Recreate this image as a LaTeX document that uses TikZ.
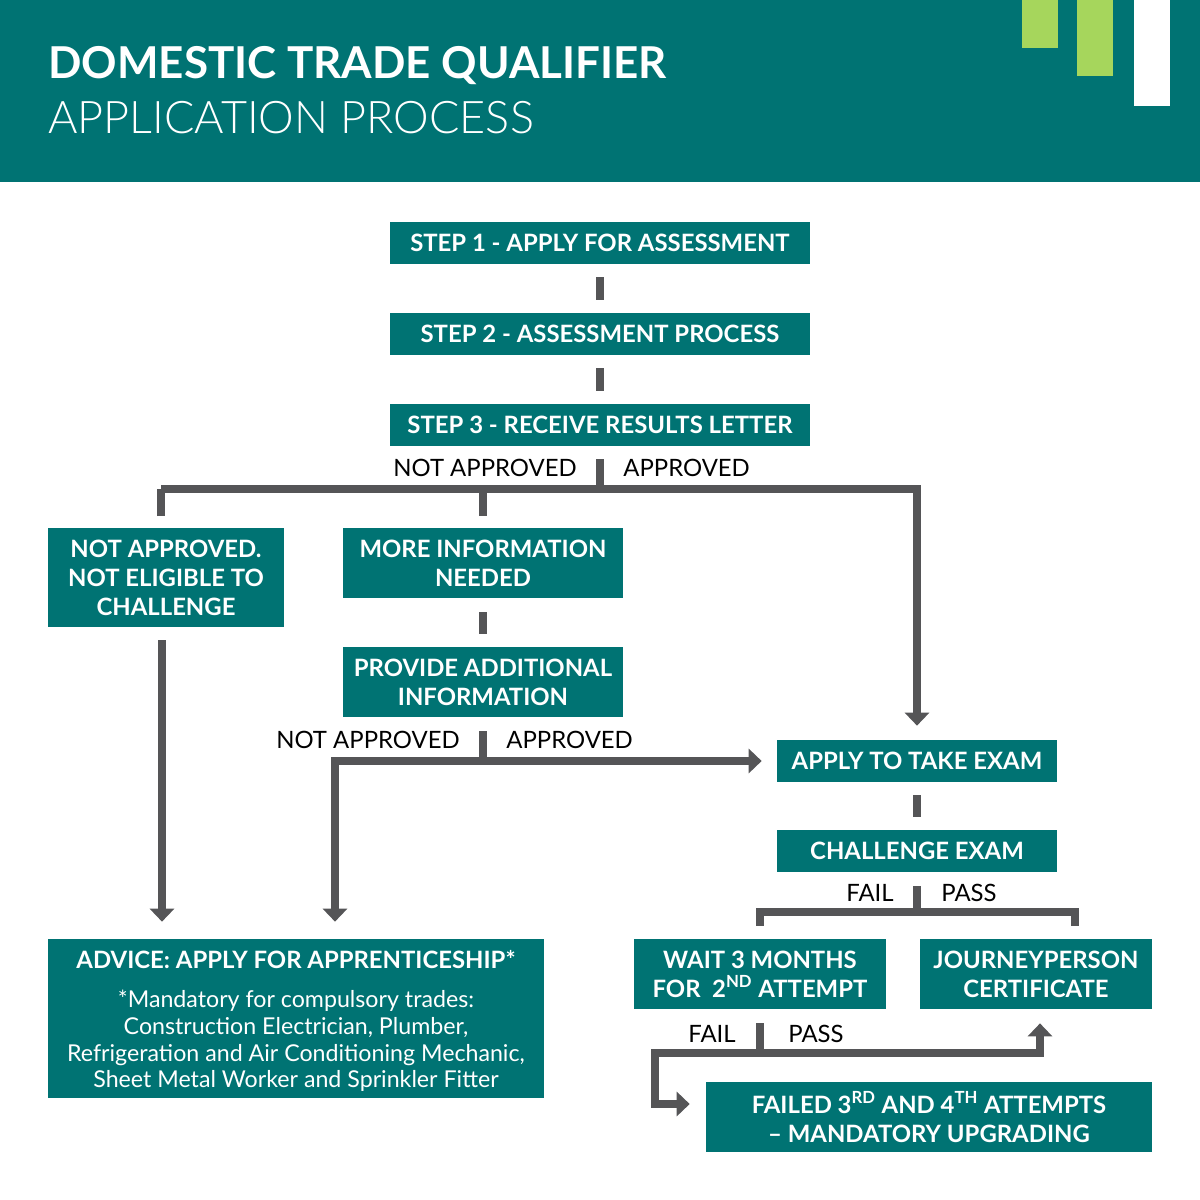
\documentclass[tikz,border=0pt]{standalone}
\usepackage{fontspec}
\setmainfont{Lato}
\usetikzlibrary{arrows.meta,calc}
\definecolor{teal1}{HTML}{007373}
\definecolor{grey1}{HTML}{555557}
\definecolor{green1}{HTML}{A6D65C}
\tikzset{
    box/.style = {
        fill = teal1,
        text = white,
        font = \fontsize{13.6}{16.5}\selectfont\bfseries,
        align = center,
        inner sep = 0pt,
        },
    link/.style = {
        draw = grey1,
        line width = 4.5pt,
        },
    tip/.style = {
        -{Triangle[length=0.26cm, width=0.48cm]},
        },
    lab/.style = {
        font = \fontsize{13.6}{16}\selectfont,
        text = black,
        inner sep = 0pt,
        },
}
\begin{document}
\begin{tikzpicture}[x=0.02cm, y=-0.02cm]
    \useasboundingbox (0,0) rectangle (1200,1200);
    % header
    \fill[teal1] (0,0) rectangle (1200,182);
    \fill[green1] (1022,0) rectangle (1058,48);
    \fill[green1] (1077,0) rectangle (1113,76);
    \fill[white] (1134,0) rectangle (1170,106);
    \node[anchor=west, text=white, inner sep=0pt, font=\fontsize{25}{30}\selectfont\bfseries] (title) at (48,66) {DOMESTIC TRADE QUALIFIER};
    \node[anchor=west, text=white, inner sep=0pt, font=\fontsize{25.6}{30}\selectfont] (subtitle) at (48,118) {\fontspec{Lato Light}APPLICATION PROCESS};

    % boxes
    \node[box, minimum width=8.4cm, minimum height=0.84cm] (s1) at (600,243) {STEP 1 - APPLY FOR ASSESSMENT};
    \node[box, minimum width=8.4cm, minimum height=0.84cm] (s2) at (600,334) {STEP 2 - ASSESSMENT PROCESS};
    \node[box, minimum width=8.4cm, minimum height=0.84cm] (s3) at (600,425) {STEP 3 - RECEIVE RESULTS LETTER};
    \node[box, minimum width=4.72cm, minimum height=1.98cm] (na) at (166,577.5) {NOT APPROVED.\\NOT ELIGIBLE TO\\CHALLENGE};
    \node[box, minimum width=5.6cm, minimum height=1.4cm] (more) at (483,563) {MORE INFORMATION\\NEEDED};
    \node[box, minimum width=5.6cm, minimum height=1.4cm] (prov) at (483,682) {PROVIDE ADDITIONAL\\INFORMATION};
    \node[box, minimum width=5.6cm, minimum height=0.84cm] (exam) at (917,761) {APPLY TO TAKE EXAM};
    \node[box, minimum width=5.6cm, minimum height=0.84cm] (chal) at (917,851) {CHALLENGE EXAM};
    \node[box, minimum width=9.92cm, minimum height=3.18cm] (adv) at (296,1018.5) {};
    \node[box, anchor=north] (advt) at (296,950) {ADVICE: APPLY FOR APPRENTICESHIP*};
    \node[box, anchor=north, font=\fontsize{13.2}{15.2}\selectfont] (advn) at (296,990) {*Mandatory for compulsory trades:\\Construction Electrician, Plumber,\\Refrigeration and Air Conditioning Mechanic,\\Sheet Metal Worker and Sprinkler Fitter};
    \node[box, minimum width=5.04cm, minimum height=1.4cm] (wait) at (760,974) {WAIT 3 MONTHS\\FOR\ \ 2\textsuperscript{ND} ATTEMPT};
    \node[box, minimum width=4.64cm, minimum height=1.4cm] (jour) at (1036,974) {JOURNEYPERSON\\CERTIFICATE};
    \node[box, minimum width=8.92cm, minimum height=1.4cm] (fail) at (929,1117) {FAILED 3\textsuperscript{RD} AND 4\textsuperscript{TH} ATTEMPTS\\-- MANDATORY UPGRADING};

    % labels
    \node[lab, anchor=east] (l1) at (577,468) {NOT APPROVED};
    \node[lab, anchor=west] (l2) at (623,468) {APPROVED};
    \node[lab, anchor=east] (l3) at (460,740) {NOT APPROVED};
    \node[lab, anchor=west] (l4) at (506,740) {APPROVED};
    \node[lab, anchor=east] (l5) at (894,893) {FAIL};
    \node[lab, anchor=west] (l6) at (941,893) {PASS};
    \node[lab, anchor=east] (l7) at (736,1034) {FAIL};
    \node[lab, anchor=west] (l8) at (788,1034) {PASS};

    % junction points
    \coordinate (j3) at (600,489);
    \coordinate (jp) at (483,761);
    \coordinate (jc) at (917,912);
    \coordinate (jw) at (760,1053);
    \coordinate (jn) at (161,489);

    % connectors
    \draw[link, shorten <=0.26cm, shorten >=0.26cm] (s1) -- (s2);
    \draw[link, shorten <=0.26cm, shorten >=0.26cm] (s2) -- (s3);
    \draw[link, shorten <=0.26cm] (s3.south) -- (j3);
    \draw[link] ($(jn)+(0,27)$) -- (jn);
    \draw[link, tip] (jn) -- (j3 -| jc) -- ($(exam.north)+(0,-14)$);
    \draw[link, shorten >=0.24cm] (j3 -| more) -- (more.north);
    \draw[link, shorten <=0.28cm, shorten >=0.26cm] (more) -- (prov);
    \draw[link, tip] ($(na.south)+(-4,13)$) -- ($(adv.north)+(-134,-17)$);
    \draw[link, shorten <=0.28cm] (prov.south) -- (jp);
    \draw[link, tip] (jp) -- ($(exam.west)+(-15,0)$);
    \draw[link, tip] (jp) -| ($(adv.north)+(39,-17)$);
    \draw[link, shorten <=0.26cm, shorten >=0.26cm] (exam) -- (chal);
    \draw[link, shorten <=0.28cm] (chal.south) -- (jc);
    \draw[link] ($(wait.north)+(0,-13)$) |- (jc) -| ($(jour.north)+(39,-13)$);
    \draw[link, shorten <=0.28cm] (wait.south) -- (jw);
    \draw[link, tip] (jw) -| ($(jour.south)+(4,14)$);
    \draw[link, tip] (jw) -| (655,1104) -- ($(fail.west)+(-16,-13)$);
\end{tikzpicture}
\end{document}
